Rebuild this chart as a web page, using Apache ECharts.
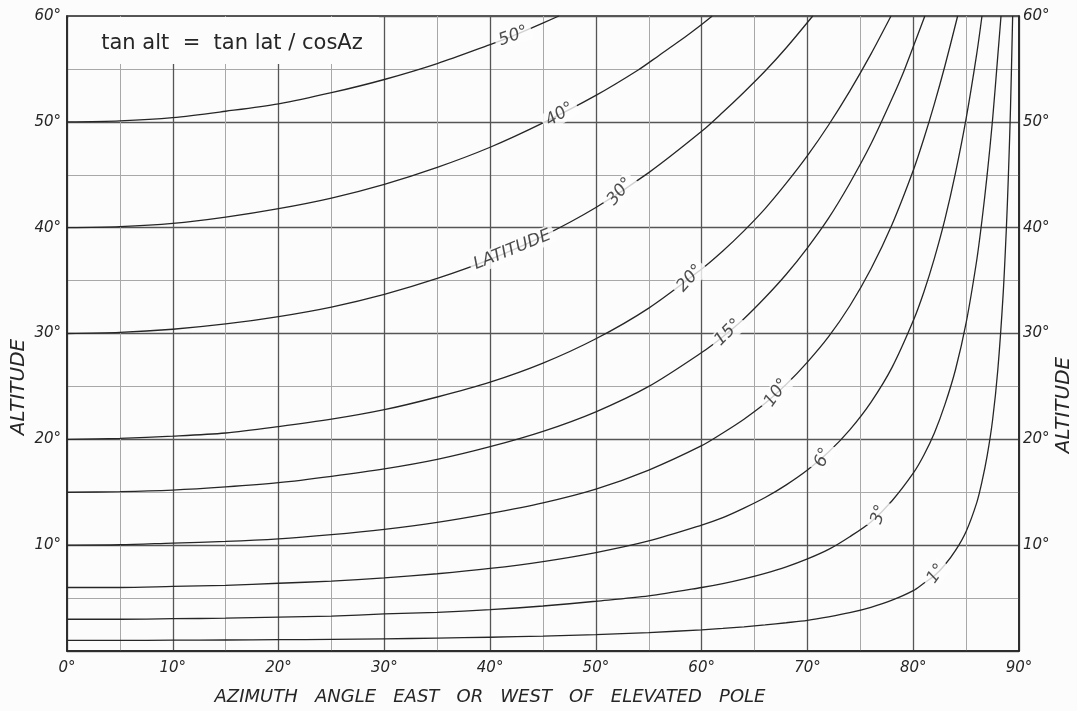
<!DOCTYPE html>
<html>
<head>
<meta charset="utf-8">
<script src="https://cdn.jsdelivr.net/npm/echarts@6/dist/echarts.min.js"></script>
<style>
  html, body { margin: 0; padding: 0; background: #fcfcfc; }
  #chart { width: 1077px; height: 711px; }
</style>
</head>
<body>
<div id="chart"></div>
<script>
// altitude (deg) against azimuth (deg) for each latitude
var lat1  = [[0,1],[5,1.0],[10,1.02],[15,1.04],[20,1.07],[25,1.1],[30,1.15],[35,1.22],[40,1.3],[45,1.41],[50,1.55],[55,1.74],[60,2.0],[62,2.13],[64,2.28],[66,2.46],[68,2.67],[70,2.9],[72,3.23],[74,3.62],[76,4.13],[78,4.8],[80,5.7],[81,6.4],[82,7.1],[83,8.15],[84,9.5],[85,11.3],[86,14.0],[86.5,16.0],[87,18.5],[87.5,21.8],[88,26.6],[88.5,33.7],[88.8,39.8],[89,45],[89.2,51.4],[89.4,60]];
var lat3  = [[0,3],[5,3.0],[10,3.05],[15,3.1],[20,3.2],[25,3.3],[30,3.5],[35,3.65],[40,3.9],[45,4.25],[50,4.7],[55,5.2],[60,6.0],[62,6.37],[64,6.82],[66,7.34],[68,7.95],[70,8.7],[72,9.6],[74,10.8],[76,12.2],[78,14.2],[80,16.8],[81,18.5],[82,20.6],[83,23.3],[84,26.6],[85,31.0],[86,36.9],[86.5,40.7],[87,45.1],[87.5,50.2],[88,56.3],[88.3,60]];
var lat6  = [[0,6],[5,6.0],[10,6.1],[15,6.2],[20,6.4],[25,6.6],[30,6.9],[35,7.3],[40,7.8],[45,8.45],[50,9.3],[55,10.4],[60,11.9],[62,12.6],[64,13.5],[66,14.5],[68,15.7],[70,17.1],[72,18.8],[74,20.9],[76,23.5],[78,26.8],[80,31.2],[81,33.9],[82,37.1],[83,40.8],[84,45.2],[85,50.3],[86,56.4],[86.5,60]];
var lat10 = [[0,10],[5,10.04],[10,10.2],[15,10.35],[20,10.6],[25,11.0],[30,11.5],[35,12.15],[40,13.0],[45,14.0],[50,15.3],[55,17.1],[60,19.4],[62,20.6],[64,21.9],[66,23.4],[68,25.2],[70,27.3],[72,29.7],[74,32.6],[76,36.1],[78,40.3],[80,45.4],[81,48.4],[82,51.7],[83,55.3],[84.2,60]];
var lat15 = [[0,15],[5,15.05],[10,15.2],[15,15.5],[20,15.9],[25,16.5],[30,17.2],[35,18.1],[40,19.3],[45,20.75],[50,22.6],[55,25.0],[60,28.2],[62,29.7],[64,31.4],[66,33.4],[68,35.6],[70,38.1],[72,40.9],[74,44.2],[76,47.9],[78,52.2],[79,54.5],[80,57.1],[81.1,60]];
var lat20 = [[0,20],[5,20.1],[10,20.3],[15,20.6],[20,21.2],[25,21.9],[30,22.8],[35,24.0],[40,25.4],[45,27.2],[50,29.5],[55,32.4],[60,36.1],[62,37.8],[64,39.7],[66,41.8],[68,44.2],[70,46.8],[72,49.7],[74,52.9],[76,56.4],[77.9,60]];
var lat30 = [[0,30],[5,30.1],[10,30.4],[15,30.9],[20,31.6],[25,32.5],[30,33.7],[35,35.2],[40,37.0],[45,39.2],[50,41.9],[55,45.2],[60,49.1],[62,50.9],[64,52.8],[66,54.8],[68,57.0],[70.5,60]];
var lat40 = [[0,40],[5,40.1],[10,40.4],[15,41.0],[20,41.8],[25,42.8],[30,44.1],[35,45.7],[40,47.6],[45,49.9],[50,52.5],[54,54.9],[56,56.3],[58,57.7],[60,59.2],[61,60]];
var lat50 = [[0,50],[5,50.1],[10,50.4],[15,51.0],[20,51.7],[25,52.75],[30,54.0],[35,55.5],[40,57.3],[42,58.05],[44,58.9],[46.5,60]];

// in-line curve labels: text, azimuth, altitude, angle
var labelText  = ['50°', '40°', '30°', 'LATITUDE', '20°', '15°', '10°', '6°', '3°', '1°'];
var labelAz    = [42.2, 46.6, 52.3, 42.1, 58.9, 62.5, 67.1, 71.5, 76.8, 82.2];
var labelAlt   = [58.1, 50.7, 43.4, 37.9, 35.2, 30.1, 24.4, 18.3, 12.9, 7.3];
var labelAngle = [20, 32, 50, 22, 48, 45, 55, 68, 72, 55];

var curves = [lat1, lat3, lat6, lat10, lat15, lat20, lat30, lat40, lat50];

var handFont = 'DejaVu Sans';
var ink = '#262626';

var series = curves.map(function(d) {
    return {
        type: 'line',
        data: d,
        showSymbol: false,
        smooth: 0.3,
        lineStyle: { color: ink, width: 1.3 },
        z: 3,
        silent: true
    };
});

series.push({
    type: 'scatter',
    symbolSize: 1,
    itemStyle: { color: 'transparent' },
    data: labelText.map(function(t, i) {
        return {
            value: [labelAz[i], labelAlt[i]],
            label: { rotate: labelAngle[i], formatter: t }
        };
    }),
    label: {
        show: true,
        position: 'inside',
        color: '#1e1e1e',
        fontFamily: handFont,
        fontStyle: 'italic',
        fontSize: 17,
        backgroundColor: '#fcfcfc',
        padding: [1, 4]
    },
    z: 5,
    silent: true
});

var myChart = echarts.init(document.getElementById('chart'));
var option = {
    backgroundColor: '#fcfcfc',
    animation: false,
    grid: {
        left: 67, right: 58, top: 16, bottom: 60,
        outerBoundsMode: 'none',
        show: true, borderColor: '#222', borderWidth: 1.5, backgroundColor: 'transparent'
    },
    xAxis: [{
        type: 'value', min: 0, max: 90, interval: 5, position: 'bottom',
        axisLine: { show: false }, axisTick: { show: false }, axisLabel: { show: false },
        splitLine: { lineStyle: { color: '#a8a8a8', width: 1 } }
    }, {
        type: 'value', min: 0, max: 90, interval: 10, position: 'bottom',
        axisLine: { show: true, lineStyle: { color: '#222', width: 1.5 } },
        axisTick: { show: false },
        axisLabel: {
            margin: 10, color: ink, fontFamily: handFont, fontStyle: 'italic', fontSize: 15,
            formatter: function(v) { return v + '°'; }
        },
        splitLine: { lineStyle: { color: '#555', width: 1.3 } }
    }],
    yAxis: [{
        type: 'value', min: 0, max: 60, interval: 5, position: 'left',
        axisLine: { show: false }, axisTick: { show: false }, axisLabel: { show: false },
        splitLine: { lineStyle: { color: '#a8a8a8', width: 1 } }
    }, {
        type: 'value', min: 0, max: 60, interval: 10, position: 'left',
        axisLine: { show: true, lineStyle: { color: '#222', width: 1.5 } },
        axisTick: { show: false },
        axisLabel: {
            margin: 6, color: ink, fontFamily: handFont, fontStyle: 'italic', fontSize: 15,
            formatter: function(v) { return v === 0 ? '' : v + '°'; }
        },
        splitLine: { lineStyle: { color: '#555', width: 1.3 } }
    }, {
        type: 'value', min: 0, max: 60, interval: 10, position: 'right',
        axisLine: { show: true, lineStyle: { color: '#222', width: 1.5 } },
        axisTick: { show: false },
        axisLabel: {
            margin: 4, color: ink, fontFamily: handFont, fontStyle: 'italic', fontSize: 15,
            formatter: function(v) { return v === 0 ? '' : v + '°'; }
        },
        splitLine: { show: false }
    }],
    graphic: [{
        type: 'rect', z: 10, silent: true,
        shape: { x: 69, y: 17, width: 310, height: 47 },
        style: { fill: '#fcfcfc' }
    }, {
        type: 'text', z: 11, silent: true, x: 232, y: 44,
        style: {
            text: 'tan alt  =  tan lat / cosAz', fill: ink,
            font: '21px "DejaVu Sans"', align: 'center', verticalAlign: 'middle'
        }
    }, {
        type: 'text', z: 11, silent: true, x: 490, y: 697,
        style: {
            text: 'AZIMUTH   ANGLE   EAST   OR   WEST   OF   ELEVATED   POLE', fill: ink,
            font: 'italic 18px "DejaVu Sans"', align: 'center', verticalAlign: 'middle'
        }
    }, {
        type: 'text', z: 11, silent: true, x: 19, y: 387, rotation: Math.PI / 2,
        style: {
            text: 'ALTITUDE', fill: ink,
            font: 'italic 20px "DejaVu Sans"', align: 'center', verticalAlign: 'middle'
        }
    }, {
        type: 'text', z: 11, silent: true, x: 1064, y: 405, rotation: Math.PI / 2,
        style: {
            text: 'ALTITUDE', fill: ink,
            font: 'italic 20px "DejaVu Sans"', align: 'center', verticalAlign: 'middle'
        }
    }],
    series: series
};
myChart.setOption(option);
</script>
</body>
</html>
